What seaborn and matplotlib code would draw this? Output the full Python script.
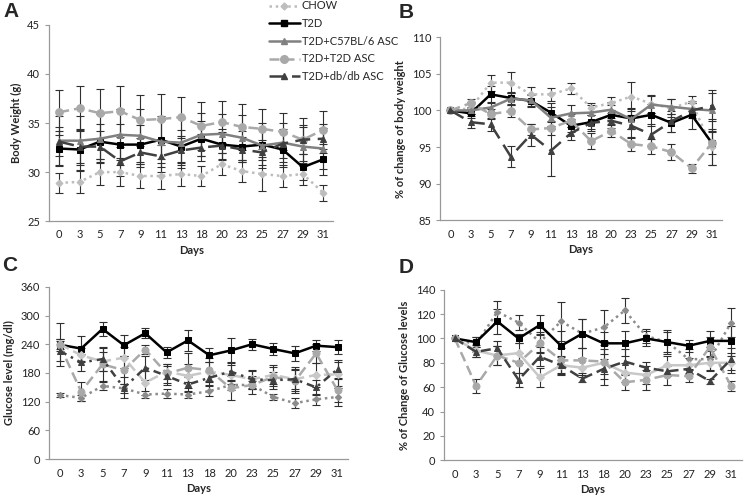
import numpy as np
import pandas as pd
import matplotlib
matplotlib.use("Agg")
import matplotlib.pyplot as plt
import seaborn as sns
from matplotlib.lines import Line2D

sns.set_style("white")
plt.rcParams['font.family'] = ['Lato', 'DejaVu Sans']

days = ['0', '3', '5', '7', '9', '11', '13', '18', '20', '23', '25', '27', '29', '31']
groups = ['CHOW', 'T2D', 'T2D+C57BL/6 ASC', 'T2D+T2D ASC', 'T2D+db/db ASC']

# A - body weight (g)
bw_chow = [28.9, 29.0, 30.0, 30.0, 29.6, 29.6, 29.8, 29.6, 30.8, 30.1, 29.8, 29.6, 29.8, 27.9]
bw_t2d = [32.4, 32.3, 33.1, 32.8, 32.8, 33.3, 32.6, 33.4, 32.8, 32.6, 32.8, 32.3, 30.5, 31.3]
bw_c57 = [33.2, 33.2, 33.4, 33.8, 33.7, 33.1, 33.0, 33.8, 33.9, 33.5, 32.7, 33.0, 32.6, 32.4]
bw_t2dasc = [36.1, 36.5, 36.0, 36.2, 35.3, 35.4, 35.6, 34.7, 35.1, 34.6, 34.4, 34.1, 33.3, 34.3]
bw_dbdb = [33.1, 32.6, 32.6, 31.1, 32.0, 31.6, 32.2, 32.5, 32.7, 32.3, 32.0, 32.9, 33.3, 33.4]
bw_chow_err = [1.0, 1.1, 1.3, 1.4, 1.2, 1.3, 1.2, 1.0, 1.1, 1.1, 1.7, 1.1, 1.1, 0.8]
bw_t2d_err = [1.8, 2.1, 1.8, 2.1, 2.0, 2.0, 1.7, 1.8, 1.6, 1.6, 1.6, 1.8, 1.3, 1.6]
bw_c57_err = [2.5, 2.5, 2.5, 2.6, 2.7, 2.6, 2.6, 2.2, 2.0, 2.3, 2.3, 2.0, 2.0, 2.1]
bw_t2dasc_err = [2.3, 2.3, 2.5, 2.6, 2.6, 2.6, 2.1, 2.4, 2.1, 2.3, 2.0, 1.9, 2.2, 1.9]
bw_dbdb_err = [1.5, 1.7, 1.6, 1.5, 1.5, 1.6, 1.5, 1.4, 1.4, 1.3, 1.3, 1.5, 1.5, 1.5]

# B - % change of body weight
pbw_chow = [100, 100.3, 103.8, 103.8, 102.2, 102.2, 103.0, 100.4, 101.0, 101.9, 100.9, 100.3, 101.2, 95.0]
pbw_t2d = [100, 99.6, 102.2, 101.7, 101.3, 99.7, 97.9, 98.4, 99.4, 98.9, 99.4, 98.3, 99.4, 95.6]
pbw_c57 = [100, 100.0, 100.4, 101.6, 101.4, 99.0, 99.6, 99.7, 100.1, 98.8, 100.8, 100.5, 100.2, 100.0]
pbw_t2dasc = [100, 101.0, 99.5, 99.9, 97.4, 97.6, 98.6, 95.8, 97.2, 95.4, 95.1, 94.3, 92.1, 95.5]
pbw_dbdb = [100, 98.4, 98.1, 93.7, 96.7, 94.5, 96.9, 98.3, 98.6, 97.9, 96.7, 98.5, 100.0, 100.6]
pbw_chow_err = [0, 0.8, 1.1, 1.4, 1.0, 0.9, 0.8, 0.6, 0.9, 2.0, 1.2, 1.2, 0.8, 2.5]
pbw_t2d_err = [0, 0.6, 1.1, 0.8, 0.8, 1.3, 0.9, 1.0, 1.3, 1.4, 1.5, 1.2, 1.9, 3.0]
pbw_c57_err = [0, 0.5, 0.6, 0.8, 0.8, 1.5, 1.2, 1.1, 1.1, 1.4, 1.2, 1.0, 0.8, 2.8]
pbw_t2dasc_err = [0, 0.6, 0.7, 0.8, 0.8, 1.0, 0.9, 1.1, 0.8, 0.9, 1.0, 1.1, 0.6, 1.5]
pbw_dbdb_err = [0, 0.8, 0.9, 1.5, 1.5, 3.4, 0.9, 1.1, 1.0, 1.5, 1.5, 1.4, 1.0, 1.8]

# C - glucose level (mg/dl)
gl_chow = [134, 128, 153, 148, 135, 137, 135, 142, 155, 155, 130, 117, 125, 130]
gl_t2d = [239, 231, 272, 238, 263, 223, 248, 217, 227, 240, 230, 221, 237, 234]
gl_c57 = [240, 217, 204, 212, 160, 183, 174, 183, 176, 167, 176, 167, 176, 177]
gl_t2dasc = [238, 141, 198, 186, 229, 179, 191, 186, 148, 155, 172, 163, 221, 144]
gl_dbdb = [226, 202, 209, 149, 191, 174, 156, 170, 183, 167, 165, 167, 150, 188]
gl_chow_err = [5, 7, 8, 10, 8, 10, 8, 10, 10, 8, 6, 10, 12, 18]
gl_t2d_err = [45, 26, 15, 22, 10, 12, 22, 15, 26, 12, 12, 15, 12, 15]
gl_c57_err = [10, 15, 20, 22, 25, 15, 25, 20, 20, 20, 20, 20, 25, 25]
gl_t2dasc_err = [12, 20, 35, 30, 10, 20, 30, 25, 25, 18, 20, 25, 20, 25]
gl_dbdb_err = [20, 18, 25, 22, 25, 20, 15, 15, 20, 18, 18, 25, 15, 20]

# D - % change of glucose levels
pgl_chow = [100, 95, 122, 113, 97, 114, 104, 109, 123, 102, 97, 83, 83, 113]
pgl_t2d = [100, 97, 114, 100, 111, 94, 104, 96, 96, 100, 97, 94, 98, 98]
pgl_c57 = [100, 90, 86, 88, 68, 78, 76, 80, 72, 70, 78, 78, 80, 80]
pgl_t2dasc = [100, 61, 86, 80, 96, 82, 82, 81, 64, 66, 70, 69, 93, 61]
pgl_dbdb = [100, 89, 92, 66, 85, 78, 67, 75, 81, 76, 73, 75, 65, 83]
pgl_chow_err = [0, 6, 9, 6, 8, 16, 12, 14, 10, 6, 8, 8, 10, 12]
pgl_t2d_err = [0, 4, 10, 4, 8, 12, 12, 9, 10, 6, 10, 5, 8, 12]
pgl_c57_err = [0, 5, 8, 8, 8, 7, 8, 18, 8, 7, 8, 6, 6, 8]
pgl_t2dasc_err = [0, 6, 8, 8, 8, 10, 10, 10, 6, 8, 8, 5, 8, 4]
pgl_dbdb_err = [0, 4, 6, 6, 8, 8, 3, 8, 10, 5, 4, 4, 2, 9]

# styles: (color, linestyle, marker, markersize)
style_top = {
    'CHOW': ('#bdbdbd', (0, (1, 1.5)), 'D', 3.5),
    'T2D': ('#000000', '-', 's', 4.5),
    'T2D+C57BL/6 ASC': ('#808080', '-', '^', 4.5),
    'T2D+T2D ASC': ('#a9a9a9', (0, (4, 2)), 'o', 5.5),
    'T2D+db/db ASC': ('#404040', (0, (6, 3)), '^', 4.5),
}
style_bottom = {
    'CHOW': ('#8c8c8c', (0, (1, 1.5)), 'D', 3.2),
    'T2D': ('#000000', '-', 's', 4.5),
    'T2D+C57BL/6 ASC': ('#c8c8c8', (0, (4, 2)), 'D', 4.5),
    'T2D+T2D ASC': ('#a9a9a9', (0, (4, 2)), 'o', 5.0),
    'T2D+db/db ASC': ('#404040', (0, (3, 2, 1, 2)), '^', 4.5),
}
style_d = dict(style_bottom)
style_d['T2D+C57BL/6 ASC'] = ('#c8c8c8', '-', 'D', 4.5)
style_d['T2D+db/db ASC'] = ('#404040', (0, (4, 2)), '^', 4.5)

panels = [
    ('A', [bw_chow, bw_t2d, bw_c57, bw_t2dasc, bw_dbdb],
     [bw_chow_err, bw_t2d_err, bw_c57_err, bw_t2dasc_err, bw_dbdb_err],
     'Body Weight (g)', (25, 45), 5, style_top, [0.066, 0.555, 0.382, 0.395], (3, 2)),
    ('B', [pbw_chow, pbw_t2d, pbw_c57, pbw_t2dasc, pbw_dbdb],
     [pbw_chow_err, pbw_t2d_err, pbw_c57_err, pbw_t2dasc_err, pbw_dbdb_err],
     '% of change of body weight', (85, 110), 5, style_top, [0.592, 0.557, 0.378, 0.368], (399, 3)),
    ('C', [gl_chow, gl_t2d, gl_c57, gl_t2dasc, gl_dbdb],
     [gl_chow_err, gl_t2d_err, gl_c57_err, gl_t2dasc_err, gl_dbdb_err],
     'Glucose level (mg/dl)', (0, 360), 60, style_bottom, [0.066, 0.076, 0.402, 0.347], (2, 256)),
    ('D', [pgl_chow, pgl_t2d, pgl_c57, pgl_t2dasc, pgl_dbdb],
     [pgl_chow_err, pgl_t2d_err, pgl_c57_err, pgl_t2dasc_err, pgl_dbdb_err],
     '% of Change of Glucose levels', (0, 140), 20, style_d, [0.597, 0.074, 0.400, 0.343], (399, 258)),
]

W, H = 744, 497
fig = plt.figure(figsize=(W / 100, H / 100), dpi=100)
pos = np.arange(len(days))

for letter, series, errs, ylabel, ylim, ystep, styles, rect, lab_xy in panels:
    ax = fig.add_axes(rect)
    for g, vals, err in zip(groups, series, errs):
        color, ls, mk, ms = styles[g]
        df = pd.DataFrame({'pos': pos, 'val': vals})
        ax.errorbar(df['pos'], df['val'], yerr=err, fmt='none', ecolor='#303030',
                    elinewidth=0.8, capsize=3, capthick=0.8, zorder=2)
        sns.lineplot(data=df, x='pos', y='val', ax=ax, color=color, linestyle=ls,
                     linewidth=1.8, marker=mk, markersize=ms, markeredgecolor=color,
                     zorder=3)
    ax.set_xlim(-0.5, len(days) - 0.5)
    ax.set_ylim(*ylim)
    ax.set_yticks(np.arange(ylim[0], ylim[1] + ystep / 2, ystep))
    ax.set_xticks(pos)
    ax.set_xticklabels(days)
    ax.set_xticks(np.arange(-0.5, len(days)), minor=True)
    ax.tick_params(axis='x', which='major', length=0, labelsize=8, pad=6, labelcolor='#222222')
    ax.tick_params(axis='x', which='minor', length=3, color='#999999', direction='out')
    ax.tick_params(axis='y', length=3, color='#999999', direction='out', labelsize=8,
                   labelcolor='#222222', left=True)
    sns.despine(ax=ax)
    for sp in ['left', 'bottom']:
        ax.spines[sp].set_color('#999999')
        ax.spines[sp].set_linewidth(0.9)
    ax.set_xlabel('Days', fontsize=8, fontweight='bold', labelpad=3)
    ax.set_ylabel(ylabel, fontsize=8, fontweight='bold', labelpad=4)
    fig.text(lab_xy[0] / W, 1 - lab_xy[1] / H, letter, fontsize=15, fontweight='bold',
             family=['Liberation Sans', 'DejaVu Sans'], va='top', ha='left')

handles = []
for g in groups:
    color, ls, mk, ms = style_top[g]
    handles.append(Line2D([], [], color=color, linestyle=ls, linewidth=1.8,
                          marker=mk, markersize=ms, markeredgecolor=color))
fig.legend(handles, groups, loc='upper left', bbox_to_anchor=(0.355, 1.008),
           frameon=False, fontsize=8, handlelength=2.8, labelspacing=0.6,
           handletextpad=0.2, borderaxespad=0)

fig.savefig('out.png', dpi=100)
